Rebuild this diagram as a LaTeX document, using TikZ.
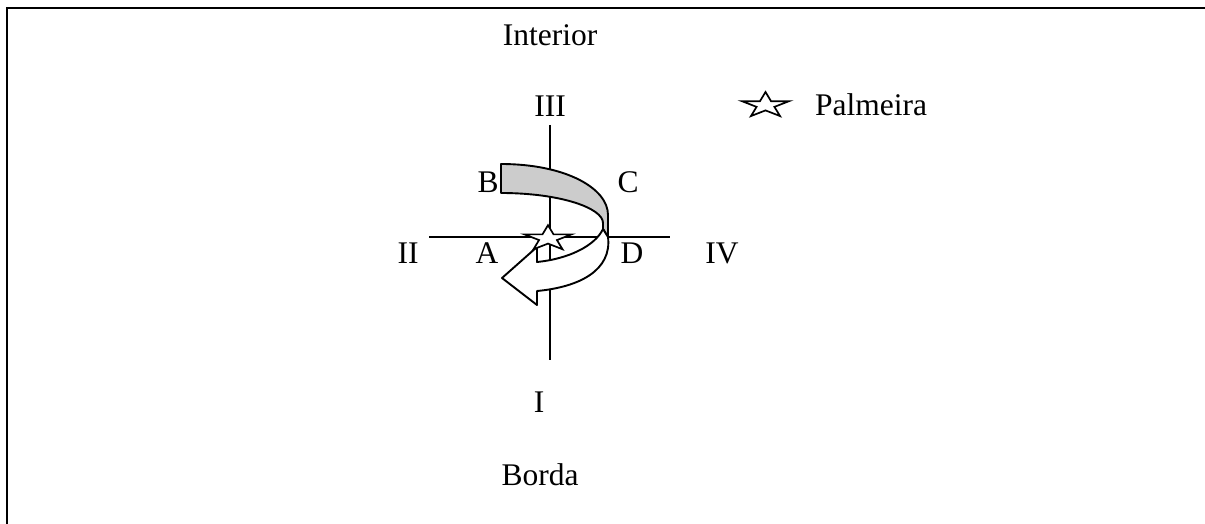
\documentclass[tikz,border=0pt]{standalone}
\usepackage{fontspec}
\setmainfont{Liberation Serif}
\begin{document}
\begin{tikzpicture}[x=1pt,y=-1pt,
  lbl/.style={anchor=base,inner sep=0pt,font=\fontsize{31.5}{37}\selectfont},
  axis/.style={line width=1.9pt},
  edge/.style={line width=1.9pt,line join=round},
  palm/.pic={
    \draw[fill=white,line width=1.7pt,line join=miter]
      plot[samples at={0,...,9}]
        ({(mod(\x,2)==0 ? 24.7 : 9.4)*cos(90+36*\x)},
         {-(mod(\x,2)==0 ? 13.3 : 5.1)*sin(90+36*\x)}) -- cycle;
  }]
\useasboundingbox (0,0) rectangle (1205,524);

% frame
\draw[line width=2.4pt] (7,524) -- (7,7.8) -- (1205,7.8);

% crossing axes
\coordinate (n) at (550,125);
\coordinate (s) at (550,360);
\coordinate (w) at (429,236.7);
\coordinate (e) at (670,236.7);
\draw[axis] (n) -- (s);
\draw[axis] (w) -- (e);

% gray ribbon from B over to D
\draw[edge,fill=black!20]
  (501,164) .. controls (565,164) and (608,188) .. (608,215)
  -- (608,237) -- (603,229)
  -- (603,223) .. controls (603,208) and (560,193) .. (501,193) -- cycle;

% white arrow turning back under the centre
\draw[edge,fill=white]
  (608,237) .. controls (612,270) and (580,287) .. (537,291)
  -- (537,305) -- (502,278) -- (537,247) -- (537,262)
  .. controls (568,259) and (595,246) .. (603,229) -- cycle;

% palm tree at the centre and in the key
\pic at (548,238.5) {palm};
\pic at (765.5,105.3) {palm};

% labels
\node[lbl] (interior) at (550,46) {Interior};
\node[lbl] (q3) at (550,117) {III};
\node[lbl,anchor=base west] (palmeira) at (815,116) {Palmeira};
\node[lbl] (b) at (488,192) {B};
\node[lbl] (c) at (628,192) {C};
\node[lbl] (q2) at (408,263) {II};
\node[lbl] (a) at (487,263) {A};
\node[lbl] (d) at (632,263) {D};
\node[lbl] (q4) at (722,263) {IV};
\node[lbl] (q1) at (539,412) {I};
\node[lbl] (borda) at (540,485) {Borda};
\end{tikzpicture}
\end{document}
